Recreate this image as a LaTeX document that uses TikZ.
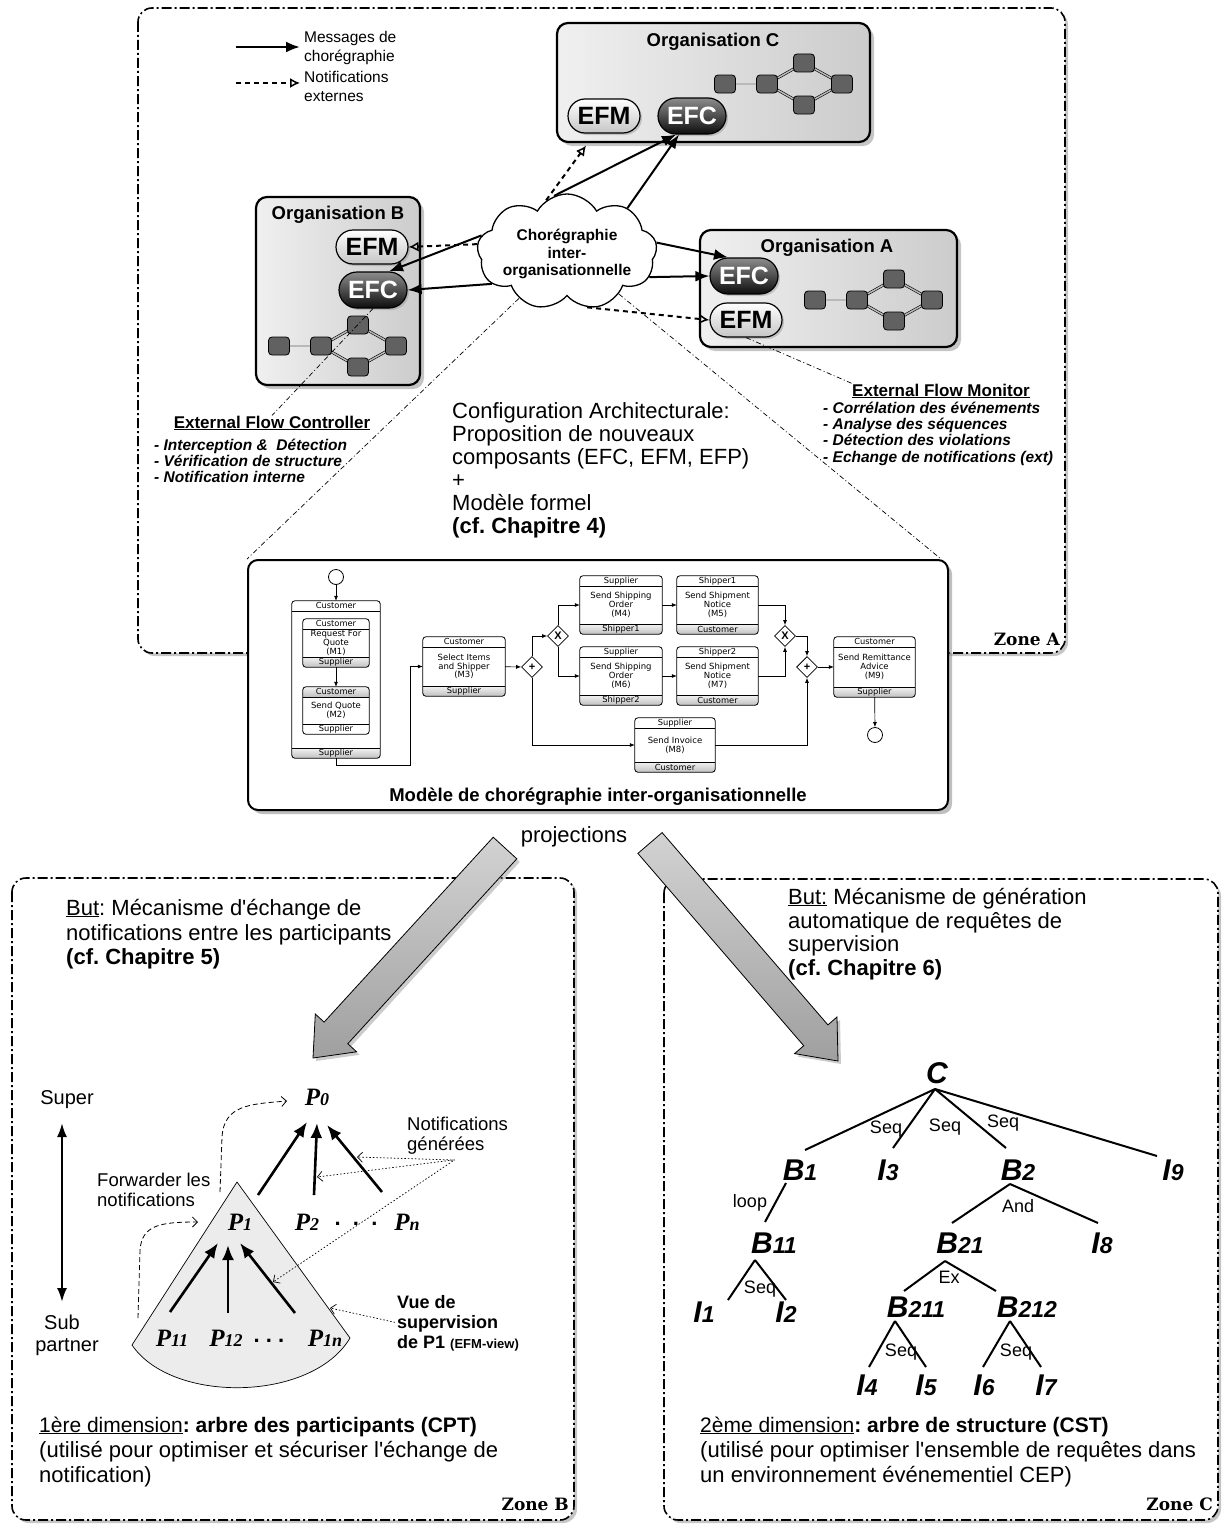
\documentclass[tikz,border=0pt]{standalone}
\usepackage{fontspec}
\setmainfont{Liberation Sans}
\newfontfamily\serifbi{Liberation Serif}
\newfontfamily\slabf{DejaVu Serif}
\newfontfamily\bpmnf{DejaVu Sans}
\usetikzlibrary{arrows.meta,shapes.geometric,shapes.misc,shapes.symbols,shadows,calc}
\frenchspacing
\newcommand\fsz[1]{\fontsize{#1}{#1}\selectfont}
\newcommand\sq{\textquotesingle}
\newcommand\PartP[1]{{\serifbi\bfseries\itshape\fsz{25}P{\fsz{18}#1}}}
\newcommand\TreeL[2]{{\bfseries\itshape\fsz{30}#1{\fsz{23}#2}}}
\newcommand\chorbands[5]{%
  \begin{scope}
    \clip[rounded corners=3pt] (#1.north west) rectangle (#1.south east);
    \path[#4] (#1.north west) rectangle ($(#1.north east)+(0,10)$);
    \path[#5] ($(#1.south west)+(0,-10)$) rectangle (#1.south east);
  \end{scope}
  \draw[line width=0.5pt] ($(#1.north west)+(0,10)$) -- ($(#1.north east)+(0,10)$);
  \draw[line width=0.5pt] ($(#1.south west)+(0,-10)$) -- ($(#1.south east)+(0,-10)$);
  \draw[line width=0.8pt, rounded corners=3pt] (#1.north west) rectangle (#1.south east);
  \node[bandtxt] (#1-h) at ($(#1.north)+(0,5)$) {#2};
  \node[bandtxt] (#1-f) at ($(#1.south)+(0,-5)$) {#3};
}
\tikzset{
  minig/.pic={
    \draw[mnl] (0,0) -- (42,0);
    \draw[mnl] (42,0) -- (79,-21);
    \draw[mnl] (42,0) -- (79,21);
    \draw[mnl] (79,-21) -- (117,0);
    \draw[mnl] (79,21) -- (117,0);
    \node[mn] (-a) at (0,0) {};
    \node[mn] (-b) at (42,0) {};
    \node[mn] (-c) at (79,-21) {};
    \node[mn] (-d) at (79,21) {};
    \node[mn] (-e) at (117,0) {};
  }
}
\begin{document}
\begin{tikzpicture}[x=1pt,y=-1pt,
  every node/.style={inner sep=0pt},
  zone/.style={draw, line width=1.6pt, dash pattern=on 10pt off 3pt on 2pt off 3pt, rounded corners=14pt, fill=white, drop shadow={opacity=0.45, shadow xshift=3pt, shadow yshift=-3pt}},
  org/.style={draw, line width=2.2pt, rounded corners=11pt, left color=gray!12, right color=gray!40, drop shadow={opacity=0.45, shadow xshift=4pt, shadow yshift=-4pt}},
  orgtitle/.style={font=\bfseries\fsz{18.5}},
  efm/.style={rounded rectangle, draw, line width=1.2pt, top color=white, bottom color=gray!45, minimum width=72pt, minimum height=34pt, font=\bfseries\fsz{25}, drop shadow={opacity=0.35, shadow xshift=2pt, shadow yshift=-2pt}},
  efc/.style={rounded rectangle, draw, line width=1.2pt, top color=black!45, bottom color=black!95, text=white, minimum width=68pt, minimum height=36pt, font=\bfseries\fsz{25}, drop shadow={opacity=0.35, shadow xshift=2pt, shadow yshift=-2pt}},
  mn/.style={draw, line width=0.8pt, fill=black!62, rounded corners=3.5pt, minimum width=21pt, minimum height=18pt},
  mnl/.style={draw=black, line width=0.6pt, double=gray!55, double distance=1.5pt},
  msg/.style={line width=2pt, -{Latex[length=14pt,width=11pt]}},
  notif/.style={line width=2pt, dash pattern=on 5pt off 4pt, -{Latex[open,length=10pt,width=10pt,line width=1.5pt]}},
  ddot/.style={line width=0.7pt, dash pattern=on 5pt off 2.5pt on 1pt off 2.5pt},
  lgt/.style={font=\fsz{15.5}},
  lab/.style={font=\bfseries\fsz{17}},
  labi/.style={font=\bfseries\itshape\fsz{15.5}},
  big/.style={font=\fsz{22}},
  bigb/.style={font=\bfseries\fsz{22}},
  task/.style={rectangle, fill=white, align=center, font=\bpmnf\fontsize{8.5}{8.8}\selectfont},
  bandtxt/.style={font=\bpmnf\fsz{8.3}},
  wb/.style={fill=white},
  gb/.style={top color=gray!10, bottom color=gray!50},
  gw/.style={diamond, draw, line width=0.8pt, fill=white, minimum width=21pt, minimum height=21pt, font=\bfseries\fsz{11}},
  ev/.style={circle, draw, line width=0.8pt, fill=white, minimum size=15pt},
  flow/.style={line width=0.7pt, -{Latex[length=5pt,width=4pt]}},
  bigarrow/.style={draw=black, line width=0.8pt, top color=gray!35, bottom color=gray!75, drop shadow={opacity=0.4, shadow xshift=3pt, shadow yshift=-3pt}},
  parr/.style={line width=2.6pt, -{Latex[length=15pt,width=12pt]}},
  dnot/.style={line width=0.7pt, dash pattern=on 1.5pt off 2pt, -{Straight Barb[length=5pt,width=10pt]}},
  dfw/.style={line width=0.8pt, dash pattern=on 5pt off 3pt, -{Straight Barb[length=5pt,width=10pt]}},
  small/.style={font=\fsz{18.5}},
  tline/.style={line width=2pt},
  seq/.style={font=\fsz{18}},
  zlab/.style={font=\slabf\bfseries\fsz{17}}
]
\useasboundingbox (0,0) rectangle (1224,1528);
\fill[white] (0,0) rectangle (1224,1528);

% ---------------- zones
\path[zone] (138,8) rectangle (1065,653);
\path[zone] (12,878) rectangle (574,1520);
\path[zone] (664,879) rectangle (1218,1520);

% ---------------- legend
\coordinate (lg1a) at (236,47); \coordinate (lg1b) at (300,47);
\draw[msg, line width=2.5pt] (lg1a) -- (lg1b);
\coordinate (lg2a) at (236,83); \coordinate (lg2b) at (300,83);
\draw[notif] (lg2a) -- (lg2b);
\node[lgt, anchor=base west] (lt1) at (304,43) {Messages de};
\node[lgt, anchor=base west] (lt2) at (304,62) {chorégraphie};
\node[lgt, anchor=base west] (lt3) at (304,82) {Notifications};
\node[lgt, anchor=base west] (lt4) at (304,101) {externes};

% ---------------- organisations
\node[org, minimum width=313pt, minimum height=119pt] (orgC) at (713.5,82.5) {};
\node[orgtitle] (tC) at (713,42) {Organisation C};
\pic (gC) at (725,84) {minig};
\node[efm] (cEFM) at (604,116) {EFM};
\node[efc] (cEFC) at (692,116) {EFC};

\node[org, minimum width=164pt, minimum height=188pt] (orgB) at (338,291) {};
\node[orgtitle] (tB) at (338,215) {Organisation B};
\pic (gB) at (279,346) {minig};
\node[efm] (bEFM) at (372,247) {EFM};
\node[efc] (bEFC) at (373,290) {EFC};

\node[org, minimum width=257pt, minimum height=117pt] (orgA) at (828.5,288.5) {};
\node[orgtitle] (tA) at (827,248) {Organisation A};
\pic (gA) at (815,300) {minig};
\node[efc] (aEFC) at (744,276) {EFC};
\node[efm] (aEFM) at (746,320) {EFM};

% ---------------- cloud
\node[cloud, cloud puffs=9, cloud puff arc=120, aspect=1.6, draw, line width=1.3pt, fill=white, minimum width=180pt, minimum height=116pt] (cl) at (567,252) {};
\node[align=center, font=\bfseries\fontsize{15.5}{17.5}\selectfont] (cltxt) at (567,254) {Chorégraphie\\inter-\\organisationnelle};

% arrows from cloud
\draw[notif] (cl.112) -- ($(cEFM.south)+(-18,12)$);
\draw[msg] (cl.103) -- (cEFC.south west);
\draw[msg] (cl.36) -- (cEFC.235);
\draw[notif] (cl.175) -- (bEFM.east);
\draw[msg] (cl.169) -- (bEFC.north east);
\draw[msg] (cl.203) -- (bEFC.east);
\draw[msg] (cl.6) -- (aEFC.north west);
\draw[msg] (cl.-17) -- (aEFC.west);
\draw[notif] (cl.-70) -- (aEFM.west);

% ---------------- labels
\node[lab, anchor=base] (ctrl) at (272,428) {\underline{External Flow Controller}};
\node[labi, anchor=base west] (ctrl1) at (154,450) {- Interception \&\ \ Détection};
\node[labi, anchor=base west] (ctrl2) at (154,466) {- Vérification de structure};
\node[labi, anchor=base west] (ctrl3) at (154,482) {- Notification interne};
\draw[ddot] (bEFC.south) -- (ctrl.north);

\node[lab, anchor=base] (mon) at (941,396) {\underline{External Flow Monitor}};
\node[labi, anchor=base west] (mon1) at (823,413) {- Corrélation des événements};
\node[labi, anchor=base west] (mon2) at (823,429) {- Analyse des séquences};
\node[labi, anchor=base west] (mon3) at (823,445) {- Détection des violations};
\node[labi, anchor=base west] (mon4) at (823,462) {- Echange de notifications (ext)};
\draw[ddot] (aEFM.south) -- (mon.north west);

\node[big, anchor=base west] (cf1) at (452,418) {Configuration Architecturale:};
\node[big, anchor=base west] (cf2) at (452,441) {Proposition de nouveaux};
\node[big, anchor=base west] (cf3) at (452,464) {composants (EFC, EFM, EFP)};
\node[big, anchor=base west] (cf4) at (452,487) {+};
\node[big, anchor=base west] (cf5) at (452,510) {Modèle formel};
\node[bigb, anchor=base west] (cf6) at (452,533) {(cf. Chapitre 4)};

% ---------------- model box
\node[draw, line width=2pt, rounded corners=10pt, fill=white, minimum width=700pt, minimum height=250pt, drop shadow={opacity=0.5, shadow xshift=4pt, shadow yshift=-4pt}] (model) at (598,685) {};
\draw[ddot] (cl.224) -- (model.north west);
\draw[ddot] (cl.-39) -- ($(model.north east)+(-8,0)$);
\node[font=\bfseries\fsz{18.5}] (mtitle) at (598,797) {Modèle de chorégraphie inter-organisationnelle};
\node[anchor=base east, zlab] (za) at (1060,645) {Zone A};

\node[task, minimum width=88pt, minimum height=157pt] (outer) at (336,679.5) {};
\chorbands{outer}{Customer}{Supplier}{wb}{gb}
\node[task, minimum width=66pt, minimum height=48pt] (m1) at (336,643) {Request For\\Quote\\(M1)};
\chorbands{m1}{Customer}{Supplier}{wb}{gb}
\node[task, minimum width=66pt, minimum height=47pt] (m2) at (336,710.5) {Send Quote\\(M2)};
\chorbands{m2}{Customer}{Supplier}{gb}{wb}
\node[task, minimum width=82pt, minimum height=59pt] (m3) at (464,666.5) {Select Items\\and Shipper\\(M3)};
\chorbands{m3}{Customer}{Supplier}{wb}{gb}
\node[task, minimum width=82pt, minimum height=58pt] (m4) at (621,605) {Send Shipping\\Order\\(M4)};
\chorbands{m4}{Supplier}{Shipper1}{wb}{gb}
\node[task, minimum width=81pt, minimum height=58pt] (m5) at (717.5,605) {Send Shipment\\Notice\\(M5)};
\chorbands{m5}{Shipper1}{Customer}{wb}{gb}
\node[task, minimum width=82pt, minimum height=58pt] (m6) at (621,676) {Send Shipping\\Order\\(M6)};
\chorbands{m6}{Supplier}{Shipper2}{wb}{gb}
\node[task, minimum width=81pt, minimum height=58pt] (m7) at (717.5,676) {Send Shipment\\Notice\\(M7)};
\chorbands{m7}{Shipper2}{Customer}{wb}{gb}
\node[task, minimum width=80pt, minimum height=54pt] (m8) at (675,745) {Send Invoice\\(M8)};
\chorbands{m8}{Supplier}{Customer}{wb}{gb}
\node[task, minimum width=81pt, minimum height=60pt] (m9) at (874.5,667) {Send Remittance\\Advice\\(M9)};
\chorbands{m9}{Customer}{Supplier}{wb}{gb}

\node[gw] (g1) at (532,667) {+};
\node[gw] (gx1) at (558,636) {X};
\node[gw] (gx2) at (785,636) {X};
\node[gw] (g2) at (807,667) {+};
\node[ev] (st) at (336,577) {};
\node[ev] (en) at (875,735) {};
\coordinate (jb) at (410,765);
\draw[flow] (st) -- (outer);
\draw[flow] (m1) -- (m2);
\draw[flow] (outer.south) |- (jb) |- (m3.west);
\draw[flow] (m3) -- (g1);
\draw[flow] (g1.north) |- (gx1.west);
\draw[flow] (gx1.north) |- (m4.west);
\draw[flow] (gx1.south) |- (m6.west);
\draw[flow] (m4) -- (m5);
\draw[flow] (m6) -- (m7);
\draw[flow] (m5.east) -| (gx2.north);
\draw[flow] (m7.east) -| (gx2.south);
\draw[flow] (gx2.east) -| (g2.north);
\draw[flow] (g1.south) |- (m8.west);
\draw[flow] (m8.east) -| (g2.south);
\draw[flow] (g2) -- (m9);
\draw[flow] (m9) -- (en);

% ---------------- projections
\node[big] (proj) at (574,837) {projections};
\path[bigarrow] (493.2,837.2) -- (324.1,1022.1) -- (315.3,1014.0) -- (313,1058) -- (356.6,1051.8) -- (347.8,1043.7) -- (516.8,858.8) -- cycle;
\path[bigarrow] (637.9,853.4) -- (803.7,1045.7) -- (794.6,1053.6) -- (838,1061) -- (837.0,1017.0) -- (827.9,1024.9) -- (662.1,832.6) -- cycle;

% ---------------- zone B / C texts
\node[big, anchor=base west] (bb1) at (66,915) {\underline{But}: Mécanisme d\sq échange de};
\node[big, anchor=base west] (bb2) at (66,940) {notifications entre les participants};
\node[bigb, anchor=base west] (bb3) at (66,964) {(cf. Chapitre 5)};
\node[big, anchor=base west] (cb1) at (788,904) {\underline{But:} Mécanisme de génération};
\node[big, anchor=base west] (cb2) at (788,928) {automatique de requêtes de};
\node[big, anchor=base west] (cb3) at (788,951) {supervision};
\node[bigb, anchor=base west] (cb4) at (788,975) {(cf. Chapitre 6)};

\node[font=\fsz{21}, anchor=base west] (bd1) at (39,1432) {\underline{1ère dimension}\textbf{: arbre des participants (CPT)}};
\node[big, anchor=base west] (bd2) at (39,1457) {(utilisé pour optimiser et sécuriser l\sq échange de};
\node[big, anchor=base west] (bd3) at (39,1482) {notification)};
\node[font=\fsz{21}, anchor=base west] (cd1) at (700,1432) {\underline{2ème dimension}\textbf{: arbre de structure (CST)}};
\node[big, anchor=base west] (cd2) at (700,1457) {(utilisé pour optimiser l\sq ensemble de requêtes dans};
\node[big, anchor=base west] (cd3) at (700,1482) {un environnement événementiel CEP)};
\node[anchor=base east, zlab] (zb) at (569,1510) {Zone B};
\node[anchor=base east, zlab] (zc) at (1213,1510) {Zone C};

% ---------------- zone B tree
\node[font=\fsz{20}] (super) at (67,1100) {Super};
\node[font=\fsz{20}] (sub1) at (62,1322) {Sub};
\node[font=\fsz{20}] (sub2) at (67,1347) {partner};
\coordinate (da1) at (62,1123); \coordinate (da2) at (62,1302);
\draw[line width=2.2pt, {Latex[length=14pt,width=10pt]}-{Latex[length=14pt,width=10pt]}] (da1) -- (da2);

\draw[line width=0.7pt, fill=gray!15] (237,1182) -- (132,1345) .. controls (172,1404) and (312,1402) .. (350,1338) -- cycle;

\node (p0) at (317,1097) {\PartP{0}};
\node (p1) at (240,1222) {\PartP{1}};
\node (p2) at (307,1222) {\PartP{2}};
\node[font=\bfseries\fsz{22}] (pdots) at (356,1224) {.~~.~~.};
\node (pn) at (407,1222) {\PartP{n}};
\node (p11) at (172,1338) {\PartP{11}};
\node (p12) at (226,1338) {\PartP{12}};
\node[font=\bfseries\fsz{22}] (pdots2) at (269,1341) {.~.~.};
\node (p1n) at (325,1338) {\PartP{1n}};

\draw[parr] ($(p1)+(18,-27)$) -- ($(p0)+(-10,25)$);
\draw[parr] ($(p2)+(7,-27)$) -- ($(p0)+(0,26)$);
\draw[parr] ($(pn)+(-25,-30)$) -- ($(p0)+(10,28)$);
\draw[parr] ($(p11)+(-2,-26)$) -- ($(p1)+(-22,21)$);
\draw[parr] ($(p12)+(2,-25)$) -- ($(p1)+(-12,23)$);
\draw[parr] ($(p1n)+(-30,-25)$) -- ($(p1)+(0,21)$);

\node[small, anchor=base west] (fw1) at (97,1186) {Forwarder les};
\node[small, anchor=base west] (fw2) at (97,1206) {notifications};
\draw[dfw] ($(p1)+(-20,-30)$) -- ($(p1)+(-18,-85)$) .. controls ($(p1)+(-16,-117)$) and ($(p1)+(10,-118)$) .. ($(p0)+(-30,4)$);
\draw[dfw] ($(p11)+(-34,-20)$) -- ($(p11)+(-32,-88)$) .. controls ($(p11)+(-30,-113)$) and ($(p11)+(-12,-116)$) .. ($(p1)+(-42,0)$);

\node[small, anchor=base west] (ng1) at (407,1130) {Notifications};
\node[small, anchor=base west] (ng2) at (407,1150) {générées};
\coordinate (hitn) at (357,1157);
\coordinate (hit2) at (317,1177);
\coordinate (hit3) at (273,1282);
\draw[dnot] ($(ng2.south)+(9,6)$) -- (hitn);
\draw[dnot] ($(ng2.south)+(7,6)$) -- (hit2);
\draw[dnot] ($(ng2.south)+(7,7)$) -- (hit3);

\node[font=\bfseries\fsz{18}, anchor=base west] (vue1) at (397,1308) {Vue de};
\node[font=\bfseries\fsz{18}, anchor=base west] (vue2) at (397,1328) {supervision};
\node[font=\bfseries\fsz{18}, anchor=base west] (vue3) at (397,1348) {de P1 {\fsz{13}(EFM-view)}};
\coordinate (coneR) at (330,1308);
\draw[dnot] ($(vue2.west)+(-2,-1)$) -- (coneR);

% ---------------- zone C tree
\node (tc) at (937,1073) {\TreeL{C}{}};
\node (tb1) at (800,1170) {\TreeL{B}{1}};
\node (ti3) at (888,1170) {\TreeL{I}{3}};
\node (tb2) at (1018,1170) {\TreeL{B}{2}};
\node (ti9) at (1173,1170) {\TreeL{I}{9}};
\node (tb11) at (774,1243) {\TreeL{B}{11}};
\node (tb21) at (960,1243) {\TreeL{B}{21}};
\node (ti8) at (1102,1243) {\TreeL{I}{8}};
\node (ti1) at (704,1312) {\TreeL{I}{1}};
\node (ti2) at (786,1312) {\TreeL{I}{2}};
\node (tb211) at (916,1307) {\TreeL{B}{211}};
\node (tb212) at (1027,1307) {\TreeL{B}{212}};
\node (ti4) at (867,1385) {\TreeL{I}{4}};
\node (ti5) at (926,1385) {\TreeL{I}{5}};
\node (ti6) at (984,1385) {\TreeL{I}{6}};
\node (ti7) at (1046,1385) {\TreeL{I}{7}};

\draw[tline] ($(tc)+(-2,16)$) -- ($(tb1)+(5,-20)$);
\draw[tline] ($(tc)+(-2,16)$) -- ($(ti3)+(5,-22)$);
\draw[tline] ($(tc)+(-2,16)$) -- ($(tb2)+(-12,-22)$);
\draw[tline] ($(tc)+(-2,16)$) -- ($(ti9)+(-16,-14)$);
\draw[tline] ($(tb1)+(-14,13)$) -- ($(tb11)+(-9,-21)$);
\draw[tline] ($(tb11)+(-19,17)$) -- ($(ti1)+(24,-12)$);
\draw[tline] ($(tb11)+(-19,17)$) -- ($(ti2)+(0,-12)$);
\draw[tline] ($(tb2)+(-8,14)$) -- ($(tb21)+(-8,-20)$);
\draw[tline] ($(tb2)+(-8,14)$) -- ($(ti8)+(-4,-20)$);
\draw[tline] ($(tb21)+(-15,18)$) -- ($(tb211)+(-12,-16)$);
\draw[tline] ($(tb21)+(-15,18)$) -- ($(tb212)+(-31,-16)$);
\draw[tline] ($(tb211)+(-21,14)$) -- ($(ti4)+(2,-18)$);
\draw[tline] ($(tb211)+(-21,14)$) -- ($(ti5)+(0,-18)$);
\draw[tline] ($(tb212)+(-17,14)$) -- ($(ti6)+(-1,-18)$);
\draw[tline] ($(tb212)+(-17,14)$) -- ($(ti7)+(-5,-18)$);

\node[seq] (s1) at (886,1129) {Seq};
\node[seq] (s2) at (945,1127) {Seq};
\node[seq] (s3) at (1003,1123) {Seq};
\node[seq] (s4) at (750,1203) {loop};
\node[seq] (s5) at (760,1289) {Seq};
\node[seq] (s6) at (1018,1206) {And};
\node[seq] (s7) at (949,1277) {Ex};
\node[seq] (s8) at (901,1352) {Seq};
\node[seq] (s9) at (1016,1352) {Seq};
\end{tikzpicture}
\end{document}
